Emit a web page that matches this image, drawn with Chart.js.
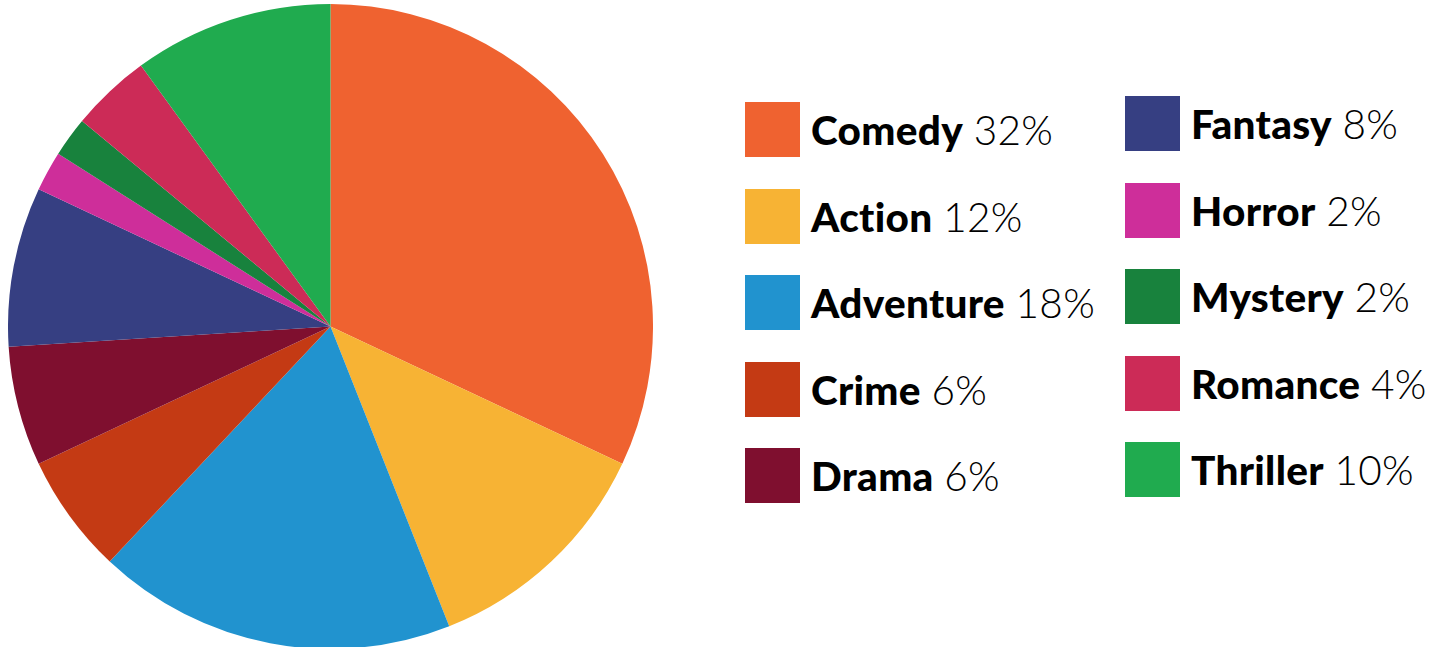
<!DOCTYPE html>
<html>
<head>
<meta charset="utf-8">
<script src="https://cdn.jsdelivr.net/npm/chart.js@4"></script>
<style>
    html, body { margin: 0; padding: 0; background: #fff; }
    body { width: 1439px; height: 647px; position: relative; overflow: hidden; font-family: Lato, "Open Sans", sans-serif; }
    #pieWrap { position: absolute; left: 8px; top: 4px; width: 645px; height: 645px; }
    .legend-col { position: absolute; }
    .legend-item { display: flex; align-items: center; height: 55px; margin-bottom: 31.5px; }
    .legend-box { width: 55px; height: 55px; margin-right: 11px; flex: none; }
    .legend-text { font-size: 40.5px; color: #000; white-space: nowrap; letter-spacing: 0.3px; }
    .legend-text b { font-weight: 900; }
    .legend-text span { font-weight: 300; }
</style>
</head>
<body>
<div id="pieWrap"><canvas id="genreChart"></canvas></div>
<div class="legend-col" id="legendLeft" style="left:745px; top:102px;"></div>
<div class="legend-col" id="legendRight" style="left:1125px; top:96px;"></div>
<script>
const genres = ['Comedy', 'Action', 'Adventure', 'Crime', 'Drama', 'Fantasy', 'Horror', 'Mystery', 'Romance', 'Thriller'];
const shares = [32, 12, 18, 6, 6, 8, 2, 2, 4, 10];
const genreColors = ['#EF6230', '#F7B334', '#2193CF', '#C43A14', '#7F0F2F', '#363F82', '#CE2E9A', '#18823D', '#CC2B57', '#20AB4F'];

document.addEventListener('DOMContentLoaded', function() {
    const ctx = document.getElementById('genreChart').getContext('2d');

    new Chart(ctx, {
        type: 'pie',
        data: {
            labels: genres,
            datasets: [{
                data: shares,
                backgroundColor: genreColors,
                borderWidth: 0
            }]
        },
        options: {
            responsive: true,
            maintainAspectRatio: false,
            animation: false,
            layout: { padding: 0 },
            plugins: {
                legend: { display: false },
                tooltip: { enabled: false }
            }
        }
    });

    // two column legend, five per column
    const left = document.getElementById('legendLeft');
    const right = document.getElementById('legendRight');
    genres.forEach(function(name, i) {
        const item = document.createElement('div');
        item.className = 'legend-item';
        item.innerHTML = '<div class="legend-box" style="background:' + genreColors[i] + '"></div>' +
            '<div class="legend-text"><b>' + name + '</b> <span>' + shares[i] + '%</span></div>';
        (i < 5 ? left : right).appendChild(item);
    });
});
</script>
</body>
</html>
